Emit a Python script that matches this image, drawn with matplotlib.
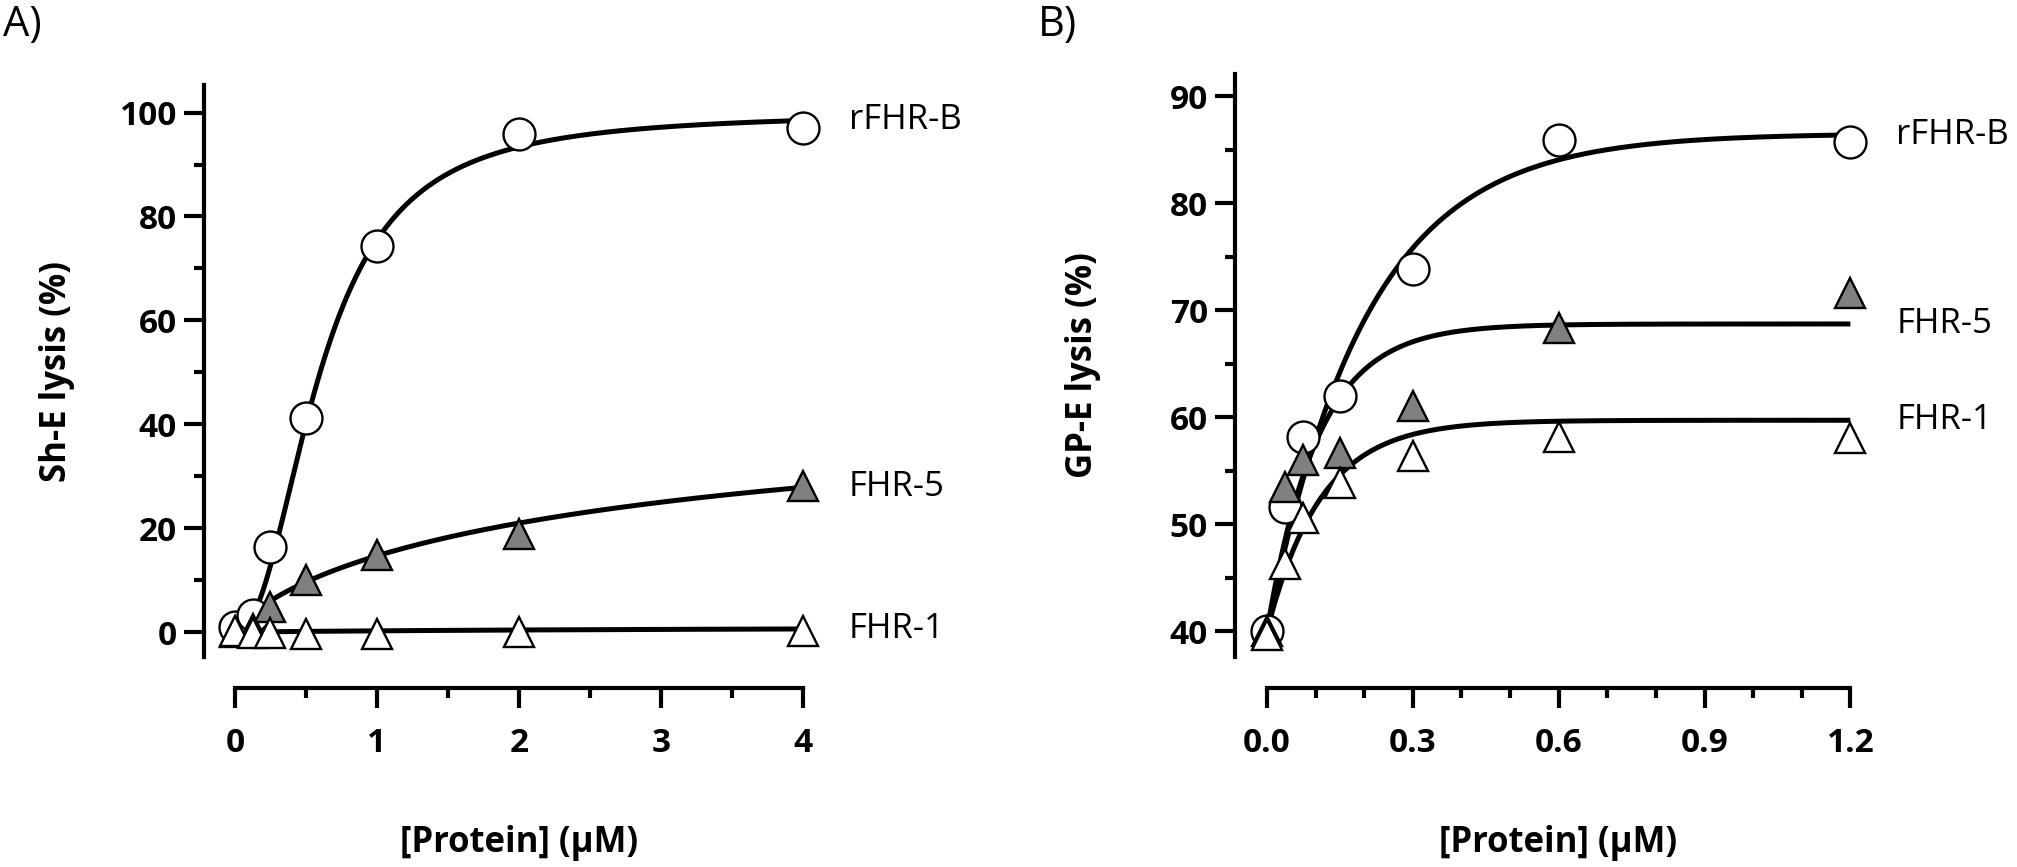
import matplotlib
matplotlib.use('Agg')
import matplotlib.pyplot as plt
import numpy as np

plt.rcParams['font.family'] = ['Open Sans', 'DejaVu Sans']

# ---- panel A: Sh-E lysis ----
conc_a = [0, 0.125, 0.25, 0.5, 1, 2, 4]
rfhrb_a = [1.0, 3.2, 16.3, 41.3, 74.4, 95.8, 97.0]
fhr5_a = [0.0, 0.5, 4.8, 10.0, 14.8, 18.8, 28.2]
fhr1_a = [0.3, -0.2, -0.2, -0.3, -0.3, 0.0, 0.2]
# Hill fit parameters (top, EC50, slope)
fit_rfhrb_a = (100.0, 0.6, 2.2)
fit_fhr5_a = (50.0, 3.0, 0.8)
fit_fhr1_a = (1.2, 4.0, 1.0)

# ---- panel B: GP-E lysis ----
conc_b = [0, 0.0375, 0.075, 0.15, 0.3, 0.6, 1.2]
rfhrb_b = [40.0, 51.6, 58.1, 62.0, 73.8, 85.9, 85.7]
fhr5_b = [40.0, 53.5, 56.0, 56.6, 61.0, 68.3, 71.6]
fhr1_b = [39.6, 46.3, 50.6, 53.8, 56.4, 58.1, 58.0]
# one-phase association fit parameters (y0, plateau, k)
fit_rfhrb_b = (40.0, 86.5, 4.9)
fit_fhr5_b = (40.0, 68.7, 9.5)
fit_fhr1_b = (40.0, 59.7, 9.0)

names = ['rFHR-B', 'FHR-5', 'FHR-1']


def hill(x, p):
    top, ec50, n = p
    return top * x ** n / (ec50 ** n + x ** n)


def assoc(x, p):
    y0, plateau, k = p
    return y0 + (plateau - y0) * (1 - np.exp(-k * x))


styles = [
    dict(marker='o', ms=23, mfc='white'),
    dict(marker='^', ms=22, mfc='#808080'),
    dict(marker='^', ms=22, mfc='white'),
]

LW = 3.0
fs_tick = 24
fs_lab = 25


def style_axes(ax, xmax):
    for s in ['top', 'right']:
        ax.spines[s].set_visible(False)
    ax.spines['left'].set_linewidth(LW)
    ax.spines['bottom'].set_linewidth(LW)
    ax.spines['bottom'].set_position(('outward', 22.3))
    ax.spines['bottom'].set_bounds(0, xmax)
    ax.tick_params(which='major', length=14.4, width=LW, labelsize=fs_tick)
    ax.tick_params(which='minor', length=7.2, width=LW)
    ax.tick_params(axis='x', which='major', pad=14)
    ax.tick_params(axis='y', which='major', pad=5)
    for lab in ax.get_xticklabels() + ax.get_yticklabels():
        lab.set_fontweight('bold')


def draw_panel(ax, conc, series, fits, func, xmax):
    xs = np.linspace(0, xmax, 400)
    for p in fits:
        ax.plot(xs, func(xs, p), color='black', lw=3.6, zorder=2,
                solid_capstyle='butt', clip_on=False)
    for i, (ys, st) in enumerate(zip(series, styles)):
        ax.plot(conc, ys, ls='none', mec='black', mew=1.7, zorder=3 + i,
                clip_on=False, **st)
    for name, p in zip(names, fits):
        ax.annotate(name, xy=(xmax, func(np.array(xmax), p)), xytext=(33, 0),
                    textcoords='offset points', ha='left', va='center',
                    fontsize=fs_lab, annotation_clip=False)


fig = plt.figure(figsize=(20.17, 8.67), dpi=100)
ax_a = fig.add_axes([0.1011, 0.2422, 0.3104, 0.6597])
ax_b = fig.add_axes([0.6123, 0.2422, 0.3198, 0.6724])

# panel A
draw_panel(ax_a, conc_a, [rfhrb_a, fhr5_a, fhr1_a],
           [fit_rfhrb_a, fit_fhr5_a, fit_fhr1_a], hill, 4)
ax_a.set_xlim(-0.218, 4.19)
ax_a.set_ylim(-4.8, 105.3)
ax_a.set_xticks([0, 1, 2, 3, 4])
ax_a.set_xticks([0.5, 1.5, 2.5, 3.5], minor=True)
ax_a.set_yticks([0, 20, 40, 60, 80, 100])
ax_a.set_yticks([10, 30, 50, 70, 90], minor=True)
style_axes(ax_a, 4)
ax_a.set_xlabel('[Protein] (µM)', fontsize=fs_lab, fontweight='bold')
ax_a.set_ylabel('Sh-E lysis (%)', fontsize=fs_lab, fontweight='bold')
ax_a.xaxis.label.set_va('center')
ax_a.yaxis.label.set_va('center')
ax_a.xaxis.set_label_coords(0.503, -0.325)
ax_a.yaxis.set_label_coords(-0.235, 0.5)

# panel B
draw_panel(ax_b, conc_b, [rfhrb_b, fhr5_b, fhr1_b],
           [fit_rfhrb_b, fit_fhr5_b, fit_fhr1_b], assoc, 1.2)
ax_b.set_xlim(-0.0658, 1.261)
ax_b.set_ylim(37.57, 92.06)
ax_b.set_xticks([0.0, 0.3, 0.6, 0.9, 1.2])
ax_b.set_xticklabels(['0.0', '0.3', '0.6', '0.9', '1.2'])
ax_b.set_xticks([0.1, 0.2, 0.4, 0.5, 0.7, 0.8, 1.0, 1.1], minor=True)
ax_b.set_yticks([40, 50, 60, 70, 80, 90])
ax_b.set_yticks([45, 55, 65, 75, 85], minor=True)
style_axes(ax_b, 1.2)
ax_b.set_xlabel('[Protein] (µM)', fontsize=fs_lab, fontweight='bold')
ax_b.set_ylabel('GP-E lysis (%)', fontsize=fs_lab, fontweight='bold')
ax_b.xaxis.label.set_va('center')
ax_b.yaxis.label.set_va('center')
ax_b.xaxis.set_label_coords(0.501, -0.319)
ax_b.yaxis.set_label_coords(-0.236, 0.5)

fig.text(3 / 2017, 1 - 4 / 867, 'A)', fontsize=30, va='top', ha='left')
fig.text(1038 / 2017, 1 - 4 / 867, 'B)', fontsize=30, va='top', ha='left')

fig.savefig('out.png', dpi=100)
